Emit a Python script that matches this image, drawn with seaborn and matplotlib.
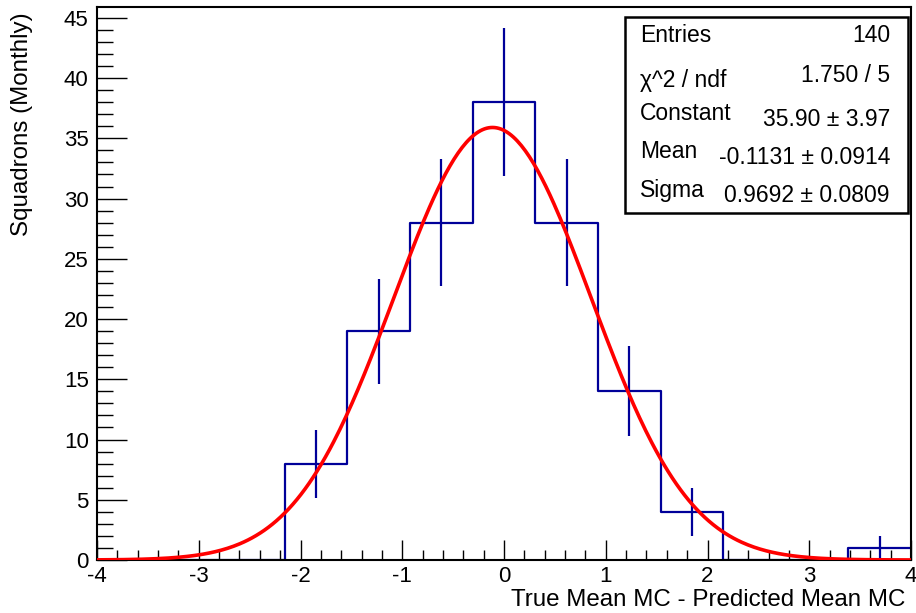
import numpy as np
import pandas as pd
import matplotlib
matplotlib.use("Agg")
import matplotlib.pyplot as plt
import seaborn as sns
from matplotlib.ticker import MultipleLocator

# ---- data ----
bin_edges = list(np.linspace(-4, 4, 14))  # 13 bins
counts = [0, 0, 0, 8, 19, 28, 38, 28, 14, 4, 0, 0, 1]
fit_constant = 35.90
fit_mean = -0.1131
fit_sigma = 0.9692
stat_labels = ["Entries", "χ^2 / ndf", "Constant", "Mean", "Sigma"]
stat_values = ["140", "1.750 / 5", "35.90 ± 3.97", "-0.1131 ± 0.0914", "0.9692 ± 0.0809"]
x_title = "True Mean MC - Predicted Mean MC"
y_title = "Squadrons (Monthly)"

sns.set_style("white")
plt.rcParams['font.family'] = ['Liberation Sans', 'DejaVu Sans']
plt.rcParams['axes.unicode_minus'] = False
plt.rcParams['text.color'] = 'black'
plt.rcParams['xtick.color'] = 'black'
plt.rcParams['ytick.color'] = 'black'

fig = plt.figure(figsize=(9.16, 6.13), dpi=100)
ax = fig.add_axes([97/916, (613-560)/613, (911-97)/916, (560-7)/613])

edges = np.array(bin_edges)
centers = 0.5 * (edges[:-1] + edges[1:])
df = pd.DataFrame({"x": centers, "w": counts})
sns.histplot(data=df, x="x", weights="w", bins=bin_edges, element="step",
             fill=False, color="#000099", linewidth=1.6, ax=ax)

# error bars for nonzero bins
cnt = np.array(counts, dtype=float)
nz = cnt > 0
ax.errorbar(centers[nz], cnt[nz], yerr=np.sqrt(cnt[nz]), fmt="none",
            ecolor="#000099", elinewidth=1.6, capsize=0, zorder=3)

# gaussian fit curve
xf = np.linspace(-4, 4, 400)
yf = fit_constant * np.exp(-0.5 * ((xf - fit_mean) / fit_sigma) ** 2)
sns.lineplot(x=xf, y=yf, color="#ff0000", linewidth=2.6, ax=ax, zorder=4)

ax.set_xlim(-4, 4)
ax.set_ylim(0, 45.9)
ax.xaxis.set_major_locator(MultipleLocator(1))
ax.xaxis.set_minor_locator(MultipleLocator(0.2))
ax.yaxis.set_major_locator(MultipleLocator(5))
ax.yaxis.set_minor_locator(MultipleLocator(1))
ax.tick_params(axis="both", which="both", bottom=True, left=True, top=False, right=False)
ax.tick_params(axis="x", which="major", direction="in", length=14.4, width=1.0,
               labelsize=16, pad=4, colors="black")
ax.tick_params(axis="x", which="minor", direction="in", length=7.2, width=1.0, colors="black")
ax.tick_params(axis="y", which="major", direction="in", length=21.6, width=1.0,
               labelsize=16, pad=6, colors="black")
ax.tick_params(axis="y", which="minor", direction="in", length=11.5, width=1.0, colors="black")
for s in ax.spines.values():
    s.set_color("black")
    s.set_linewidth(1.5)

ax.set_xlabel("")
ax.set_ylabel("")
fig.text(905/916, 1 - 600/613, x_title, ha="right", va="center", fontsize=17.4, color="black")
fig.text(22/916, 1 - 124/613, y_title, ha="center", va="center", rotation=90,
         fontsize=17.4, color="black")

# stats box
box = plt.Rectangle((0.6486, 0.6275), 0.9963 - 0.6486, 0.982 - 0.6275,
                    transform=ax.transAxes, fill=True, facecolor="white",
                    edgecolor="black", linewidth=1.8, zorder=5)
ax.add_patch(box)
label_y = [36, 81, 113, 152, 191]
value_y = [36, 75, 120, 158, 195]
for lab, val, ly, vy in zip(stat_labels, stat_values, label_y, value_y):
    ax.text((640-97)/814, (560-ly)/553, lab, transform=ax.transAxes,
            ha="left", va="center", fontsize=16.5, zorder=6, color="black")
    ax.text((890-97)/814, (560-vy)/553, val, transform=ax.transAxes,
            ha="right", va="center", fontsize=16.5, zorder=6, color="black")

fig.savefig("out.png", dpi=100, facecolor="white")
